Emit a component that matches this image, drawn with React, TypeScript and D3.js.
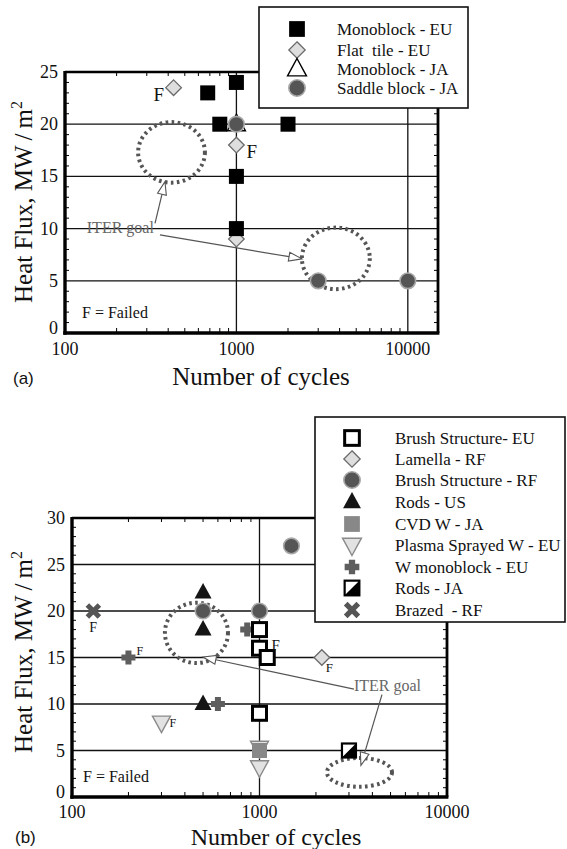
import React from "react";
import * as d3 from "d3";

const W = 567;
const H = 849;
const SERIF = "Liberation Serif, DejaVu Serif, serif";
const SANS = "Liberation Sans, Arial, sans-serif";

type Pt = { c: number; q: number };

// ---------- panel (a) data ----------
const monoblockEU: Pt[] = [
  { c: 680, q: 23 },
  { c: 800, q: 20 },
  { c: 1000, q: 24 },
  { c: 1000, q: 15 },
  { c: 1000, q: 10 },
  { c: 2000, q: 20 },
];
const flatTileEU: Pt[] = [
  { c: 430, q: 23.5 },
  { c: 1000, q: 18 },
  { c: 1000, q: 9 },
];
const monoblockJA: Pt[] = [{ c: 1000, q: 20 }];
const saddleBlockJA: Pt[] = [
  { c: 1000, q: 20 },
  { c: 3000, q: 5 },
  { c: 10000, q: 5 },
];

// ---------- panel (b) data ----------
const brushEU: Pt[] = [
  { c: 1000, q: 18 },
  { c: 1000, q: 16 },
  { c: 1100, q: 15 },
  { c: 1000, q: 9 },
];
const lamellaRF: Pt[] = [{ c: 2150, q: 15 }];
const brushRF: Pt[] = [
  { c: 500, q: 20 },
  { c: 1000, q: 20 },
  { c: 1480, q: 27 },
];
const rodsUS: Pt[] = [
  { c: 500, q: 22 },
  { c: 500, q: 18 },
  { c: 500, q: 10 },
];
const cvdJA: Pt[] = [{ c: 1000, q: 5 }];
const plasmaEU: Pt[] = [
  { c: 300, q: 8 },
  { c: 1000, q: 5.3 },
  { c: 1000, q: 3.2 },
];
const wMonoblockEU: Pt[] = [
  { c: 200, q: 15 },
  { c: 600, q: 10 },
  { c: 860, q: 18 },
];
const rodsJA: Pt[] = [{ c: 3000, q: 5 }];
const brazedRF: Pt[] = [{ c: 130, q: 20 }];

// ---------- axis ticks ----------
const yTicksA = [0, 5, 10, 15, 20, 25];
const yTicksB = [0, 5, 10, 15, 20, 25, 30];
const xTicks = [100, 1000, 10000];

// ITER goal regions: cycle range and heat flux range
const goalA = [
  { c0: 267, c1: 655, q0: 14.4, q1: 20.2 },
  { c0: 2410, c1: 6000, q0: 4.2, q1: 10.1 },
];
const goalB = [
  { c0: 313, c1: 679, q0: 14.4, q1: 20.9 },
  { c0: 2290, c1: 5090, q0: 1.1, q1: 4.2 },
];

type Kind =
  | "sqBlack"
  | "diamond"
  | "triOpen"
  | "circle"
  | "sqOpen"
  | "triBlack"
  | "sqGray"
  | "triDown"
  | "plus"
  | "half"
  | "cross";

function Marker({ kind, x, y, s = 1 }: { kind: Kind; x: number; y: number; s?: number }) {
  switch (kind) {
    case "sqBlack": {
      const h = 7.5 * s;
      return <rect x={x - h} y={y - h} width={2 * h} height={2 * h} fill="#000" />;
    }
    case "diamond": {
      const h = 7.8 * s;
      return (
        <path
          d={`M${x},${y - h}L${x + h},${y}L${x},${y + h}L${x - h},${y}Z`}
          fill="#dedede"
          stroke="#6a6a6a"
          strokeWidth={1.3}
        />
      );
    }
    case "triOpen": {
      const w = 9 * s;
      return (
        <path
          d={`M${x},${y - 10 * s}L${x + w},${y + 6.5 * s}L${x - w},${y + 6.5 * s}Z`}
          fill="#fff"
          stroke="#000"
          strokeWidth={1.4}
        />
      );
    }
    case "circle":
      return <circle cx={x} cy={y} r={7.8 * s} fill="#555" stroke="#a8a8a8" strokeWidth={1.6} />;
    case "sqOpen": {
      const h = 7 * s;
      return (
        <rect x={x - h} y={y - h} width={2 * h} height={2 * h} fill="#fff" stroke="#000" strokeWidth={3} />
      );
    }
    case "triBlack": {
      const w = 8.5 * s;
      return (
        <path
          d={`M${x},${y - 9.5 * s}L${x + w},${y + 6 * s}L${x - w},${y + 6 * s}Z`}
          fill="#151515"
        />
      );
    }
    case "sqGray": {
      const h = 7.5 * s;
      return <rect x={x - h} y={y - h} width={2 * h} height={2 * h} fill="#888" />;
    }
    case "triDown": {
      const w = 9 * s;
      return (
        <path
          d={`M${x},${y + 10 * s}L${x + w},${y - 6.5 * s}L${x - w},${y - 6.5 * s}Z`}
          fill="#e2e2e2"
          stroke="#8a8a8a"
          strokeWidth={1.4}
        />
      );
    }
    case "plus": {
      const a = 7 * s;
      const b = 3 * s;
      return (
        <path
          d={`M${x - b},${y - a}H${x + b}V${y - b}H${x + a}V${y + b}H${x + b}V${y + a}H${x - b}V${y + b}H${x - a}V${y - b}H${x - b}Z`}
          fill="#5e5e5e"
        />
      );
    }
    case "half": {
      const h = 7 * s;
      return (
        <g>
          <rect x={x - h} y={y - h} width={2 * h} height={2 * h} fill="#fff" />
          <path d={`M${x - h},${y + h}L${x + h},${y - h}L${x + h},${y + h}Z`} fill="#000" />
          <rect x={x - h} y={y - h} width={2 * h} height={2 * h} fill="none" stroke="#000" strokeWidth={2.2} />
        </g>
      );
    }
    case "cross": {
      const a = 6 * s;
      return (
        <path
          d={`M${x - a},${y - a}L${x + a},${y + a}M${x + a},${y - a}L${x - a},${y + a}`}
          stroke="#555"
          strokeWidth={5 * s}
          strokeLinecap="butt"
        />
      );
    }
  }
  return null;
}

function Arrow({ x1, y1, x2, y2 }: { x1: number; y1: number; x2: number; y2: number }) {
  const ang = Math.atan2(y2 - y1, x2 - x1);
  const len = 13;
  const hw = 4.5;
  const bx = x2 - len * Math.cos(ang);
  const by = y2 - len * Math.sin(ang);
  const px = -Math.sin(ang) * hw;
  const py = Math.cos(ang) * hw;
  return (
    <g>
      <line x1={x1} y1={y1} x2={bx} y2={by} stroke="#555" strokeWidth={1.2} />
      <path
        d={`M${x2},${y2}L${bx + px},${by + py}L${bx - px},${by - py}Z`}
        fill="#fff"
        stroke="#555"
        strokeWidth={1.1}
      />
    </g>
  );
}

type Series = { pts: Pt[]; kind: Kind };

type PanelProps = {
  x0: number;
  x1: number;
  yBottom: number;
  yTop: number;
  xMax: number;
  yMax: number;
  yTicks: number[];
  series: Series[];
  goals: { c0: number; c1: number; q0: number; q1: number }[];
  arrows: { from: Pt; to: Pt }[];
  goalText: Pt;
  failed: { at: Pt; dx: number; dy: number; size: number }[];
  failedNote: { x: number; y: number };
  legend: { x0: number; x1: number; y0: number; y1: number; mx: number; tx: number; rows: number[]; items: { kind: Kind; label: string }[] };
  yTitleY: number;
  xTitle: { x: number; y: number; size: number };
  xLabelGap: number;
  tag: { text: string; x: number; y: number };
};

function Panel(p: PanelProps) {
  const x = d3.scaleLog().domain([100, p.xMax]).range([p.x0, p.x1]);
  const y = d3.scaleLinear().domain([0, p.yMax]).range([p.yBottom, p.yTop]);

  const minorX = x.ticks().filter((v) => v <= p.xMax && !xTicks.includes(v));
  const minorY = d3.range(0, p.yMax + 0.001, 1).filter((v) => v % 5 !== 0);
  const gridY = p.yTicks.filter((v) => v > 0 && v < p.yMax);
  const gridX = xTicks.filter((v) => v > 100 && v < p.xMax);
  const serif = { fontFamily: SERIF, whiteSpace: "pre" as const };

  return (
    <g>
      {/* grid */}
      {gridY.map((v) => (
        <line key={"gy" + v} x1={p.x0} x2={p.x1} y1={y(v)} y2={y(v)} stroke="#111" strokeWidth={1.3} />
      ))}
      {gridX.map((v) => (
        <line key={"gx" + v} x1={x(v)} x2={x(v)} y1={p.yBottom} y2={p.yTop} stroke="#111" strokeWidth={1.3} />
      ))}

      {/* minor ticks */}
      {minorX.map((v) => (
        <g key={"mx" + v}>
          <line x1={x(v)} x2={x(v)} y1={p.yBottom} y2={p.yBottom - 5} stroke="#000" strokeWidth={1} />
          <line x1={x(v)} x2={x(v)} y1={p.yTop} y2={p.yTop + 4} stroke="#000" strokeWidth={1} />
        </g>
      ))}
      {minorY.map((v) => (
        <g key={"my" + v}>
          <line x1={p.x0} x2={p.x0 + 4} y1={y(v)} y2={y(v)} stroke="#000" strokeWidth={1} />
          <line x1={p.x1} x2={p.x1 - 4} y1={y(v)} y2={y(v)} stroke="#000" strokeWidth={1} />
        </g>
      ))}

      {/* ITER goal regions */}
      {p.goals.map((g, i) => {
        const cx = (x(g.c0) + x(g.c1)) / 2;
        const cy = (y(g.q0) + y(g.q1)) / 2;
        return (
          <ellipse
            key={"goal" + i}
            cx={cx}
            cy={cy}
            rx={Math.abs(x(g.c1) - x(g.c0)) / 2}
            ry={Math.abs(y(g.q1) - y(g.q0)) / 2}
            fill="none"
            stroke="#555"
            strokeWidth={4}
            strokeDasharray="2.6 3.4"
          />
        );
      })}
      {p.arrows.map((a, i) => (
        <Arrow key={"ar" + i} x1={x(a.from.c)} y1={y(a.from.q)} x2={x(a.to.c)} y2={y(a.to.q)} />
      ))}
      <text x={x(p.goalText.c)} y={y(p.goalText.q)} style={serif} fontSize={16} fill="#666">
        ITER goal
      </text>

      {/* data markers */}
      {p.series.map((s, i) => (
        <g key={"s" + i}>
          {s.pts.map((d, j) => (
            <Marker key={j} kind={s.kind} x={x(d.c)} y={y(d.q)} />
          ))}
        </g>
      ))}
      {p.failed.map((f, i) => (
        <text
          key={"f" + i}
          x={x(f.at.c) + f.dx}
          y={y(f.at.q) + f.dy}
          style={serif}
          fontSize={f.size}
          fill="#111"
        >
          F
        </text>
      ))}
      <text x={p.failedNote.x} y={p.failedNote.y} style={serif} fontSize={16} fill="#111">
        F = Failed
      </text>

      {/* frame */}
      <line x1={p.x0} x2={p.x1 + 1.5} y1={p.yTop} y2={p.yTop} stroke="#000" strokeWidth={2.4} />
      <line x1={p.x1} x2={p.x1} y1={p.yTop} y2={p.yBottom} stroke="#000" strokeWidth={2.8} />
      <line x1={p.x0} x2={p.x0} y1={p.yTop - 1} y2={p.yBottom + 1.7} stroke="#000" strokeWidth={3.4} />
      <line x1={p.x0 - 1.7} x2={p.x1 + 1.4} y1={p.yBottom} y2={p.yBottom} stroke="#000" strokeWidth={3.4} />

      {/* tick labels */}
      {p.yTicks.map((v) => (
        <text
          key={"yl" + v}
          x={p.x0 - 7}
          y={y(v) + (v === 0 ? 1 : 6)}
          textAnchor="end"
          style={serif}
          fontSize={18}
          fill="#111"
        >
          {v}
        </text>
      ))}
      {xTicks
        .filter((v) => v <= p.xMax)
        .map((v) => (
          <text
            key={"xl" + v}
            x={x(v)}
            y={p.yBottom + p.xLabelGap}
            textAnchor="middle"
            style={serif}
            fontSize={18}
            fill="#111"
          >
            {v}
          </text>
        ))}

      {/* axis titles */}
      <text
        transform={`translate(32,${p.yTitleY}) rotate(-90)`}
        textAnchor="middle"
        style={serif}
        fontSize={25}
        fill="#111"
      >
        {"Heat Flux, MW\u2009/\u2009m"}
        <tspan dy={-10} fontSize={16}>
          2
        </tspan>
      </text>
      <text
        x={p.xTitle.x}
        y={p.xTitle.y}
        textAnchor="middle"
        style={serif}
        fontSize={p.xTitle.size}
        fill="#111"
      >
        Number of cycles
      </text>
      <text x={p.tag.x} y={p.tag.y} style={{ fontFamily: SANS }} fontSize={17} fill="#111">
        {p.tag.text}
      </text>

      {/* legend */}
      <rect
        x={p.legend.x0}
        y={p.legend.y0}
        width={p.legend.x1 - p.legend.x0}
        height={p.legend.y1 - p.legend.y0}
        fill="#fff"
        stroke="#111"
        strokeWidth={1.6}
      />
      {p.legend.items.map((it, i) => (
        <g key={"lg" + i}>
          <Marker kind={it.kind} x={p.legend.mx} y={p.legend.rows[i]} s={1.05} />
          <text x={p.legend.tx} y={p.legend.rows[i] + 5.5} style={serif} fontSize={17} fill="#111">
            {it.label}
          </text>
        </g>
      ))}
    </g>
  );
}

export default function App() {
  return (
    <svg
      width={W}
      height={H}
      viewBox={`0 0 ${W} ${H}`}
      style={{ position: "absolute", left: 0, top: 0, display: "block", background: "#fff" }}
    >
      <rect width={W} height={H} fill="#fff" />
      <Panel
        x0={65}
        x1={438}
        yBottom={333}
        yTop={72}
        xMax={15000}
        yMax={25}
        yTicks={yTicksA}
        series={[
          { pts: flatTileEU, kind: "diamond" },
          { pts: monoblockEU, kind: "sqBlack" },
          { pts: monoblockJA, kind: "triOpen" },
          { pts: saddleBlockJA, kind: "circle" },
        ]}
        goals={goalA}
        arrows={[
          { from: { c: 335, q: 10.5 }, to: { c: 383, q: 14.5 } },
          { from: { c: 358, q: 9.4 }, to: { c: 2410, q: 7.1 } },
        ]}
        goalText={{ c: 134, q: 9.6 }}
        failed={[
          { at: flatTileEU[0], dx: -20, dy: 13, size: 19 },
          { at: flatTileEU[1], dx: 10, dy: 13, size: 19 },
        ]}
        failedNote={{ x: 82, y: 318 }}
        legend={{
          x0: 259,
          x1: 468,
          y0: 7,
          y1: 108,
          mx: 297,
          tx: 337,
          rows: [29, 50, 69, 88],
          items: [
            { kind: "sqBlack", label: "Monoblock - EU" },
            { kind: "diamond", label: "Flat\u00a0 tile - EU" },
            { kind: "triOpen", label: "Monoblock - JA" },
            { kind: "circle", label: "Saddle block - JA" },
          ],
        }}
        yTitleY={202}
        xTitle={{ x: 261, y: 385, size: 25 }}
        xLabelGap={22}
        tag={{ text: "(a)", x: 13, y: 384 }}
      />
      <Panel
        x0={72}
        x1={447}
        yBottom={797}
        yTop={518}
        xMax={10000}
        yMax={30}
        yTicks={yTicksB}
        series={[
          { pts: lamellaRF, kind: "diamond" },
          { pts: brushRF, kind: "circle" },
          { pts: rodsUS, kind: "triBlack" },
          { pts: wMonoblockEU, kind: "plus" },
          { pts: plasmaEU.slice(1, 2), kind: "triDown" },
          { pts: cvdJA, kind: "sqGray" },
          { pts: [plasmaEU[0], plasmaEU[2]], kind: "triDown" },
          { pts: brushEU, kind: "sqOpen" },
          { pts: rodsJA, kind: "half" },
          { pts: brazedRF, kind: "cross" },
        ]}
        goals={goalB}
        arrows={[
          { from: { c: 3190, q: 11.6 }, to: { c: 500, q: 15.05 } },
          { from: { c: 4500, q: 11.0 }, to: { c: 3475, q: 3.4 } },
        ]}
        goalText={{ c: 3190, q: 11.4 }}
        failed={[
          { at: brazedRF[0], dx: -4, dy: 21, size: 14 },
          { at: wMonoblockEU[0], dx: 8, dy: -3, size: 12 },
          { at: plasmaEU[0], dx: 8, dy: 4, size: 12 },
          { at: brushEU[1], dx: 12, dy: 2, size: 15 },
          { at: lamellaRF[0], dx: 4, dy: 14, size: 13 },
        ]}
        failedNote={{ x: 83, y: 782 }}
        legend={{
          x0: 315,
          x1: 565,
          y0: 417,
          y1: 622,
          mx: 352,
          tx: 395,
          rows: [438, 459, 480, 502, 524, 545, 567, 588, 610],
          items: [
            { kind: "sqOpen", label: "Brush Structure- EU" },
            { kind: "diamond", label: "Lamella - RF" },
            { kind: "circle", label: "Brush Structure - RF" },
            { kind: "triBlack", label: "Rods - US" },
            { kind: "sqGray", label: "CVD W - JA" },
            { kind: "triDown", label: "Plasma Sprayed W - EU" },
            { kind: "plus", label: "W monoblock - EU" },
            { kind: "half", label: "Rods - JA" },
            { kind: "cross", label: "Brazed\u00a0 - RF" },
          ],
        }}
        yTitleY={652}
        xTitle={{ x: 276, y: 845, size: 24 }}
        xLabelGap={21}
        tag={{ text: "(b)", x: 15, y: 843 }}
      />
    </svg>
  );
}
